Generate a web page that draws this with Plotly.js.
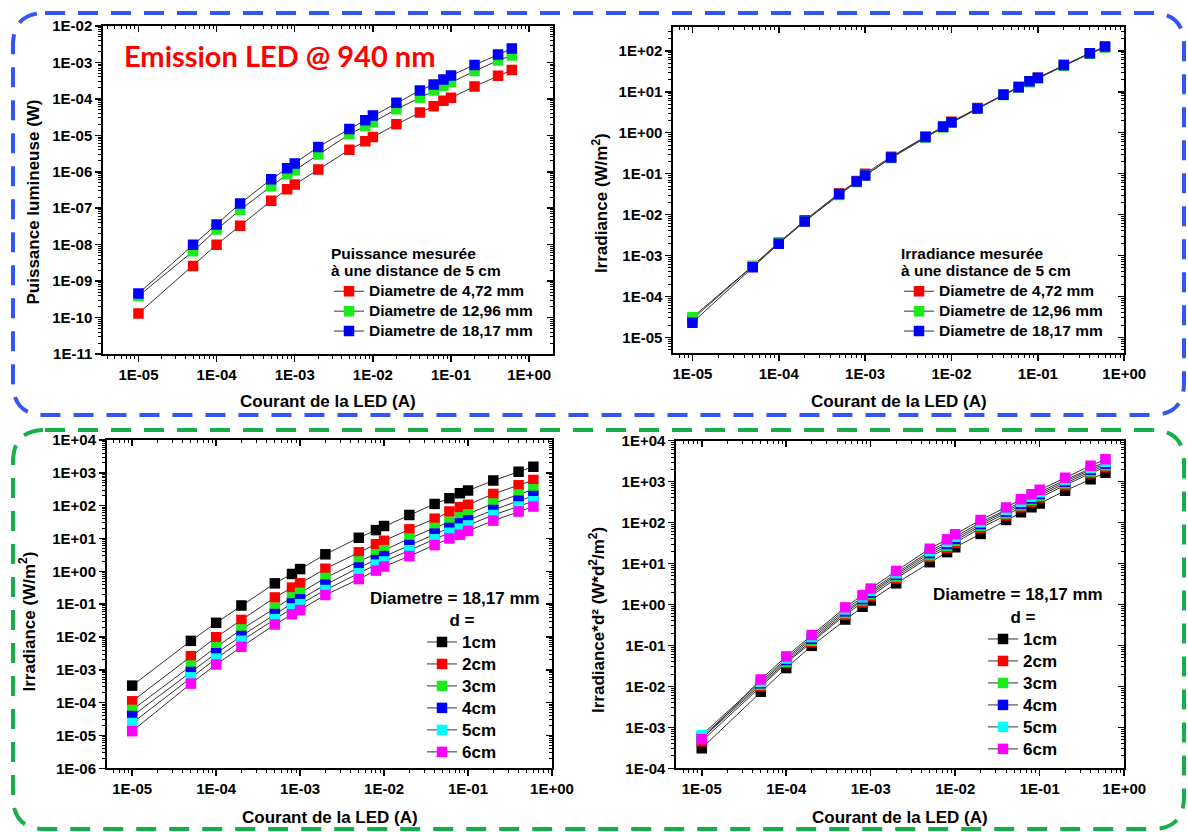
<!DOCTYPE html>
<html>
<head>
<meta charset="utf-8">
<script src="https://cdn.plot.ly/plotly-3.0.1.min.js"></script>
<style>html,body{margin:0;padding:0;background:#fff;}#chart{width:1188px;height:832px;}</style>
</head>
<body>
<div id="chart"></div>
<script>
// ---------- DATA ----------
const current = [1e-5, 5e-5, 1e-4, 2e-4, 5e-4, 8e-4, 1e-3, 2e-3, 5e-3, 8e-3, 1e-2, 2e-2, 4e-2, 6e-2, 8e-2, 1e-1, 2e-1, 4e-1, 6e-1];

// Panel 1: Puissance lumineuse (W) at 5 cm
const power_472  = [1.3e-10, 2.6e-9, 1.0e-8, 3.3e-8, 1.6e-7, 3.3e-7, 4.5e-7, 1.15e-6, 4.0e-6, 6.9e-6, 9.0e-6, 2.0e-5, 4.2e-5, 6.3e-5, 8.9e-5, 1.07e-4, 2.2e-4, 4.3e-4, 6.2e-4];
const power_1296 = [3.9e-10, 6.6e-9, 2.6e-8, 9.0e-8, 4.0e-7, 8.5e-7, 1.1e-6, 3.0e-6, 1.07e-5, 1.8e-5, 2.3e-5, 5.2e-5, 1.07e-4, 1.7e-4, 2.3e-4, 2.9e-4, 5.8e-4, 1.13e-3, 1.55e-3];
const power_1817 = [4.6e-10, 1.0e-8, 3.6e-8, 1.35e-7, 6.2e-7, 1.24e-6, 1.7e-6, 4.8e-6, 1.5e-5, 2.6e-5, 3.5e-5, 7.8e-5, 1.7e-4, 2.5e-4, 3.4e-4, 4.4e-4, 8.5e-4, 1.65e-3, 2.4e-3];

// Panel 2: Irradiance (W/m2) at 5 cm
const irr_472  = [2.8e-5, 5.4e-4, 2.0e-3, 7.3e-3, 3.3e-2, 6.6e-2, 1.0e-1, 2.6e-1, 8.0e-1, 1.42, 1.85, 4.0, 8.6, 13.2, 18, 22, 45, 88, 125];
const irr_1296 = [3.1e-5, 5.6e-4, 2.1e-3, 6.9e-3, 3.0e-2, 6.3e-2, 9.1e-2, 2.4e-1, 7.7e-1, 1.35, 1.75, 3.9, 8.3, 12.7, 17.2, 21, 43, 85, 120];
const irr_1817 = [2.3e-5, 5.2e-4, 1.95e-3, 6.8e-3, 3.2e-2, 6.4e-2, 9.0e-2, 2.5e-1, 7.9e-1, 1.4, 1.8, 3.9, 8.5, 13, 18, 22, 45, 88, 127];

// Panel 3: Irradiance (W/m2) vs distance, diametre 18,17 mm
const irr_1cm = [3.3e-4, 7.6e-3, 2.7e-2, 9.1e-2, 0.43, 0.83, 1.17, 3.3, 10.5, 18, 24, 52, 113, 167, 238, 288, 580, 1080, 1540];
const irr_2cm = [1.1e-4, 2.6e-3, 9.8e-3, 3.3e-2, 0.16, 0.32, 0.43, 1.2, 3.8, 6.7, 8.5, 19, 40, 66, 89, 107, 227, 420, 600];
const irr_3cm = [6.0e-5, 1.35e-3, 4.9e-3, 1.7e-2, 7.7e-2, 0.16, 0.22, 0.63, 2.0, 3.3, 4.4, 10, 21, 32, 44, 54, 117, 218, 318];
const irr_4cm = [3.9e-5, 8.6e-4, 3.2e-3, 1.07e-2, 5.0e-2, 0.105, 0.14, 0.39, 1.3, 2.2, 2.9, 6.3, 14, 21, 29, 36, 74, 140, 197];
const irr_5cm = [2.4e-5, 5.9e-4, 2.2e-3, 7.7e-3, 3.5e-2, 7.4e-2, 0.1, 0.27, 0.87, 1.6, 2.0, 4.4, 9.5, 15, 20, 25, 52, 95, 137];
const irr_6cm = [1.35e-5, 3.8e-4, 1.45e-3, 5.0e-3, 2.4e-2, 4.9e-2, 6.6e-2, 0.19, 0.58, 1.05, 1.4, 2.9, 6.3, 10, 13, 17, 35, 66, 94];

// Panel 4: Irradiance*d2 (W*d2/m2)
const irrd2_1cm = [3.1e-4, 7.4e-3, 2.8e-2, 9.8e-2, 0.43, 0.88, 1.25, 3.3, 10.8, 19, 25, 53, 116, 180, 237, 294, 600, 1140, 1660];
const irrd2_2cm = [4.6e-4, 1.0e-2, 3.7e-2, 0.12, 0.56, 1.12, 1.6, 4.3, 14.5, 24, 32, 74, 150, 238, 320, 410, 820, 1600, 2250];
const irrd2_3cm = [5.3e-4, 1.1e-2, 4.0e-2, 0.13, 0.62, 1.25, 1.78, 4.8, 16, 27, 36, 83, 168, 265, 355, 455, 910, 1780, 2500];
const irrd2_4cm = [5.8e-4, 1.2e-2, 4.4e-2, 0.145, 0.68, 1.35, 1.95, 5.3, 18, 30, 40, 92, 185, 290, 390, 500, 1000, 1950, 2750];
const irrd2_5cm = [6.5e-4, 1.3e-2, 4.8e-2, 0.16, 0.76, 1.5, 2.15, 5.8, 20, 34, 45, 102, 205, 325, 430, 550, 1100, 2150, 3050];
const irrd2_6cm = [5.1e-4, 1.48e-2, 5.4e-2, 0.18, 0.85, 1.7, 2.45, 6.6, 23, 39, 52, 116, 235, 370, 490, 630, 1250, 2450, 3500];

// Tick labels
const xTickVals = [1e-5, 1e-4, 1e-3, 1e-2, 1e-1, 1];
const xTickText = ["1E-05", "1E-04", "1E-03", "1E-02", "1E-01", "1E+00"];
const y1TickVals = [1e-11, 1e-10, 1e-9, 1e-8, 1e-7, 1e-6, 1e-5, 1e-4, 1e-3, 1e-2];
const y1TickText = ["1E-11", "1E-10", "1E-09", "1E-08", "1E-07", "1E-06", "1E-05", "1E-04", "1E-03", "1E-02"];
const y2TickVals = [1e-5, 1e-4, 1e-3, 1e-2, 1e-1, 1, 10, 100];
const y2TickText = ["1E-05", "1E-04", "1E-03", "1E-02", "1E-01", "1E+00", "1E+01", "1E+02"];
const y3TickVals = [1e-6, 1e-5, 1e-4, 1e-3, 1e-2, 1e-1, 1, 10, 100, 1000, 10000];
const y3TickText = ["1E-06", "1E-05", "1E-04", "1E-03", "1E-02", "1E-01", "1E+00", "1E+01", "1E+02", "1E+03", "1E+04"];
const y4TickVals = [1e-4, 1e-3, 1e-2, 1e-1, 1, 10, 100, 1000, 10000];
const y4TickText = ["1E-04", "1E-03", "1E-02", "1E-01", "1E+00", "1E+01", "1E+02", "1E+03", "1E+04"];

const diamNames = ["Diametre de 4,72 mm", "Diametre de 12,96 mm", "Diametre de 18,17 mm"];
const distNames = ["1cm", "2cm", "3cm", "4cm", "5cm", "6cm"];

// ---------- STYLE ----------
const W = 1188, H = 832;
const FONT = "Liberation Sans, Arial, Helvetica, sans-serif";
const C_RED = "#ff0000", C_GREEN = "#1aeb1a", C_BLUE = "#0000ff", C_BLACK = "#000000", C_CYAN = "#00ffff", C_MAG = "#ff00ff";
const px = (x) => x / W;
const py = (y) => 1 - y / H;

function minorVals(lo, hi) {
  const v = [];
  for (let e = Math.floor(lo); e < Math.ceil(hi); e++) {
    for (let m = 2; m <= 9; m++) {
      const val = m * Math.pow(10, e);
      const l = Math.log10(val);
      if (l >= lo && l <= hi) v.push(val);
    }
  }
  return v;
}

const tickFont = { family: FONT, size: 15, color: "black", weight: "bold" };

function baseAxis(dom, range, anchor, tv, tt) {
  return {
    type: "log", domain: dom, range: range, anchor: anchor,
    tickmode: "array", tickvals: tv, ticktext: tt,
    ticks: "outside", ticklen: 6, tickwidth: 1.5, tickcolor: "black",
    minor: { tickmode: "array", tickvals: minorVals(range[0], range[1]), ticks: "outside", ticklen: 3, tickwidth: 1, tickcolor: "black", showgrid: false },
    showline: true, linewidth: 2, linecolor: "black", mirror: true,
    showgrid: false, zeroline: false, tickfont: tickFont, automargin: false, fixedrange: true
  };
}
function overlayAxis(over, side, range, anchor, tv) {
  return {
    type: "log", overlaying: over, side: side, anchor: anchor, range: range,
    tickmode: "array", tickvals: tv,
    ticks: "inside", ticklen: 6, tickwidth: 1.5, tickcolor: "black",
    minor: { tickmode: "array", tickvals: minorVals(range[0], range[1]), ticks: "inside", ticklen: 3, tickwidth: 1, tickcolor: "black", showgrid: false },
    showticklabels: false, showline: false, showgrid: false, zeroline: false, automargin: false, fixedrange: true
  };
}

const panels = [
  { xd: [px(103.3), px(552.6)], yd: [py(354), py(26)],    xr: [-5.45, 0.30], yr: [-11, -2],     yv: y1TickVals, yt: y1TickText },
  { xd: [px(673.4), px(1124.2)], yd: [py(353), py(26.7)], xr: [-5.22, 0.0],  yr: [-5.38, 2.59], yv: y2TickVals, yt: y2TickText },
  { xd: [px(107), px(552)],     yd: [py(768.3), py(440)], xr: [-5.30, 0.0],  yr: [-6, 4],       yv: y3TickVals, yt: y3TickText },
  { xd: [px(676.4), px(1124.2)], yd: [py(768.3), py(440.7)], xr: [-5.30, 0.0], yr: [-4, 4],     yv: y4TickVals, yt: y4TickText }
];

const layout = {
  width: W, height: H, margin: { l: 0, r: 0, t: 0, b: 0 },
  paper_bgcolor: "white", plot_bgcolor: "rgba(0,0,0,0)",
  font: { family: FONT, color: "black" },
  showlegend: true, annotations: [], shapes: []
};

panels.forEach((p, i) => {
  const n = i + 1, s = n === 1 ? "" : String(n);
  const xk = "x" + s, yk = "y" + s;
  layout["xaxis" + s] = baseAxis(p.xd, p.xr, yk, xTickVals, xTickText);
  layout["yaxis" + s] = baseAxis(p.yd, p.yr, xk, p.yv, p.yt);
  layout["xaxis" + (n + 4)] = overlayAxis(xk, "top", p.xr, yk, xTickVals);
  layout["yaxis" + (n + 4)] = overlayAxis(yk, "right", p.yr, xk, p.yv);
});

// ---------- TRACES ----------
const traces = [];
function addSeries(y, name, color, axN, legendId, size) {
  const s = axN === 1 ? "" : String(axN);
  traces.push({
    type: "scatter", mode: "lines+markers", x: current, y: y,
    name: name, legend: legendId,
    xaxis: "x" + s, yaxis: "y" + s,
    line: { color: "#333333", width: 1 },
    marker: { symbol: "square", size: size, color: color, line: { width: 0 } },
    hoverinfo: "x+y+name"
  });
}
const span155 = (t) => '<span style="font-size:15.5px">' + t + '</span>';
const span17 = (t) => '<span style="font-size:17px">' + t + '</span>';

addSeries(power_472,  span155(diamNames[0]), C_RED,   1, "legend", 10.5);
addSeries(power_1296, span155(diamNames[1]), C_GREEN, 1, "legend", 10.5);
addSeries(power_1817, span155(diamNames[2]), C_BLUE,  1, "legend", 10.5);

addSeries(irr_472,  span155(diamNames[0]), C_RED,   2, "legend2", 10.5);
addSeries(irr_1296, span155(diamNames[1]), C_GREEN, 2, "legend2", 10.5);
addSeries(irr_1817, span155(diamNames[2]), C_BLUE,  2, "legend2", 10.5);

const p3 = [irr_1cm, irr_2cm, irr_3cm, irr_4cm, irr_5cm, irr_6cm];
const p4 = [irrd2_1cm, irrd2_2cm, irrd2_3cm, irrd2_4cm, irrd2_5cm, irrd2_6cm];
const distColors = [C_BLACK, C_RED, C_GREEN, C_BLUE, C_CYAN, C_MAG];
p3.forEach((arr, k) => addSeries(arr, span17(distNames[k]), distColors[k], 3, "legend3", 10.5));
p4.forEach((arr, k) => addSeries(arr, span17(distNames[k]), distColors[k], 4, "legend4", 10.5));

// empty helper traces so overlay axes are drawn
for (let n = 1; n <= 4; n++) {
  const s = n === 1 ? "" : String(n);
  traces.push({ type: "scatter", x: [], y: [], xaxis: "x" + (n + 4), yaxis: "y" + s, showlegend: false, hoverinfo: "skip" });
  traces.push({ type: "scatter", x: [], y: [], xaxis: "x" + s, yaxis: "y" + (n + 4), showlegend: false, hoverinfo: "skip" });
}

// ---------- LEGENDS ----------
function legendCfg(x, y, size, title, side) {
  return {
    x: x, y: y, xanchor: "left", yanchor: "top",
    bgcolor: "rgba(0,0,0,0)", borderwidth: 0, tracegroupgap: 0,
    font: { family: FONT, size: size, color: "black", weight: "bold" },
    title: { text: title, side: side, font: { family: FONT, size: size, color: "black", weight: "bold" } },
    itemclick: false, itemdoubleclick: false
  };
}
layout.legend  = legendCfg(px(329), py(242.5), 13, span155("Puissance mesurée") + "<br>" + span155("à une distance de 5 cm"), "top");
layout.legend2 = legendCfg(px(899), py(242.5), 13, span155("Irradiance mesurée") + "<br>" + span155("à une distance de 5 cm"), "top");
layout.legend3 = legendCfg(px(422), py(607), 14.6, span17("d ="), "top center");
layout.legend4 = legendCfg(px(983), py(604), 14.6, span17("d ="), "top center");

// ---------- ANNOTATIONS ----------
const titleFont = { family: FONT, size: 17, color: "black", weight: "bold" };
function ann(x, y, text, angle, font) {
  layout.annotations.push({
    xref: "paper", yref: "paper", x: px(x), y: py(y), text: text,
    showarrow: false, xanchor: "center", yanchor: "middle", textangle: angle || 0, font: font || titleFont
  });
}
ann(328, 402, "Courant de la LED (A)");
ann(899, 402, "Courant de la LED (A)");
ann(329.5, 817, "Courant de la LED (A)");
ann(900.3, 817, "Courant de la LED (A)");
ann(32.5, 202, "Puissance lumineuse (W)", -90);
ann(599.6, 203.5, "Irradiance (W/m<sup>2</sup>)", -90);
ann(27.5, 622, "Irradiance (W/m<sup>2</sup>)", -90);
ann(597, 620, "Irradiance*d² (W*d<sup>2</sup>/m<sup>2</sup>)", -90);
ann(455, 598, "Diametre = 18,17 mm");
ann(1017.5, 594, "Diametre = 18,17 mm");
ann(279, 56, "Emission LED @ 940 nm", 0, { family: "Lato, Open Sans, sans-serif", size: 29, color: "#ff0000", weight: "bold" });

// ---------- DASHED ROUNDED FRAMES ----------
function roundRect(l, t, r, b, rad) {
  const X = (v) => px(v).toFixed(5), Y = (v) => py(v).toFixed(5);
  return "M" + X(l + rad) + "," + Y(t) +
    " L" + X(r - rad) + "," + Y(t) +
    " Q" + X(r) + "," + Y(t) + " " + X(r) + "," + Y(t + rad) +
    " L" + X(r) + "," + Y(b - rad) +
    " Q" + X(r) + "," + Y(b) + " " + X(r - rad) + "," + Y(b) +
    " L" + X(l + rad) + "," + Y(b) +
    " Q" + X(l) + "," + Y(b) + " " + X(l) + "," + Y(b - rad) +
    " L" + X(l) + "," + Y(t + rad) +
    " Q" + X(l) + "," + Y(t) + " " + X(l + rad) + "," + Y(t) + " Z";
}
layout.shapes.push({ type: "path", xref: "paper", yref: "paper", path: roundRect(13, 13, 1184, 415, 32), line: { color: "#3355f5", width: 4, dash: "20px,13px" }, layer: "above" });
layout.shapes.push({ type: "path", xref: "paper", yref: "paper", path: roundRect(13, 430, 1184, 829, 32), line: { color: "#16ad4a", width: 4, dash: "20px,13px" }, layer: "above" });

Plotly.newPlot("chart", traces, layout, { staticPlot: true, displayModeBar: false });
</script>
</body>
</html>
